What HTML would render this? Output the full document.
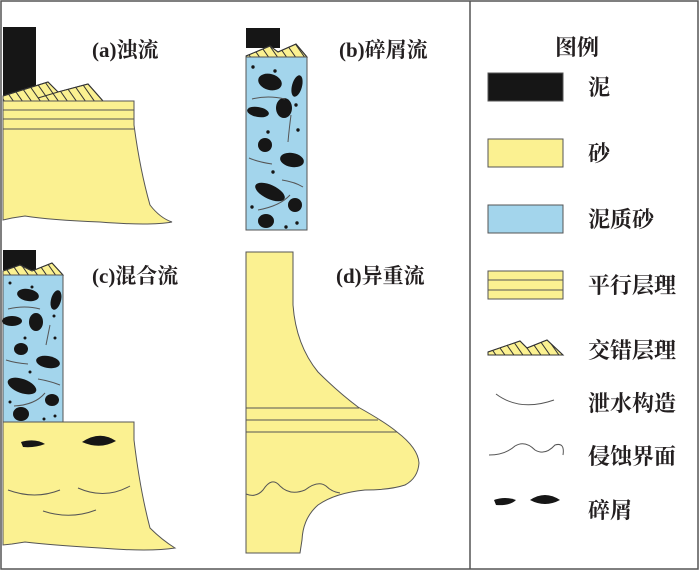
<!DOCTYPE html>
<html><head><meta charset="utf-8"><style>
body{margin:0;background:#fff}
svg{display:block}
text{font-family:"Liberation Serif","Noto Serif CJK SC",serif;font-weight:bold;fill:#231f20}
</style></head><body>
<svg width="700" height="571" viewBox="0 0 700 571" xmlns="http://www.w3.org/2000/svg">
<defs>
<clipPath id="ca"><path d="M3 96 L48 82 L58 92 L88 84 L103 101 L3 101Z"/></clipPath>
<clipPath id="cb"><path d="M246 56 L270 46 L278 52 L296 44 L307 57 L246 57Z"/></clipPath>
<clipPath id="cc"><path d="M3 271 L20 265 L32 271 L52 263 L63 275 L3 275Z"/></clipPath>
<clipPath id="cl"><path d="M488 352 L520 341 L527 348 L547 340 L563 355 L488 355Z"/></clipPath>
<g id="hat" stroke="#333" stroke-width="1">
<line x1="0" y1="0" x2="14" y2="20"/><line x1="9" y1="0" x2="23" y2="20"/><line x1="18" y1="0" x2="32" y2="20"/><line x1="27" y1="0" x2="41" y2="20"/><line x1="36" y1="0" x2="50" y2="20"/><line x1="45" y1="0" x2="59" y2="20"/><line x1="54" y1="0" x2="68" y2="20"/><line x1="63" y1="0" x2="77" y2="20"/><line x1="72" y1="0" x2="86" y2="20"/><line x1="81" y1="0" x2="95" y2="20"/><line x1="90" y1="0" x2="104" y2="20"/><line x1="99" y1="0" x2="113" y2="20"/><line x1="-9" y1="0" x2="5" y2="20"/>
</g>
</defs>
<rect x="1" y="1" width="697" height="568" fill="none" stroke="#555" stroke-width="1.5"/>
<line x1="470" y1="1" x2="470" y2="569" stroke="#555" stroke-width="1.5"/>
<g stroke="#555" stroke-width="1">
<!-- panel a -->
<rect x="3" y="27" width="33" height="70" fill="#161616" stroke="none"/>
<path d="M3 96 L48 82 L58 92 L88 84 L103 101 L3 101Z" fill="#fbf191"/>
<g clip-path="url(#ca)"><use href="#hat" x="0" y="82"/></g>
<path d="M3 96 L48 82 L58 92 L88 84 L103 101 M38 98 L58 92" fill="none" stroke="#333"/>
<path d="M3 101 L134 101 L134 125 Q140 170 150 205 Q160 218 172 222 Q150 226 100 222 Q50 220 25 216 L12 218 L3 220Z" fill="#fbf191"/>
<line x1="3" y1="110" x2="134" y2="110"/><line x1="3" y1="119" x2="134" y2="119"/><line x1="3" y1="129" x2="134" y2="129"/>
<!-- panel b -->
<rect x="246" y="28" width="34" height="20" fill="#161616" stroke="none"/>
<path d="M246 56 L270 46 L278 52 L296 44 L307 57 L246 57Z" fill="#fbf191"/>
<g clip-path="url(#cb)"><use href="#hat" x="240" y="42"/></g>
<path d="M246 56 L270 46 L278 52 L296 44 L307 57" fill="none" stroke="#333"/>
<rect x="246" y="57" width="61" height="173" fill="#a3d5ec"/>
<g fill="#161616" stroke="none">
<ellipse cx="270" cy="82" rx="12" ry="8" transform="rotate(15 270 82)"/>
<ellipse cx="297" cy="86" rx="5" ry="11" transform="rotate(15 297 86)"/>
<ellipse cx="258" cy="112" rx="11" ry="5" transform="rotate(10 258 112)"/>
<ellipse cx="284" cy="108" rx="8" ry="10"/>
<ellipse cx="265" cy="145" rx="7" ry="7"/>
<ellipse cx="292" cy="160" rx="12" ry="7" transform="rotate(10 292 160)"/>
<ellipse cx="270" cy="192" rx="16" ry="7" transform="rotate(25 270 192)"/>
<ellipse cx="295" cy="205" rx="7" ry="7"/>
<ellipse cx="266" cy="221" rx="8" ry="7"/>
<circle cx="253" cy="67" r="1.7"/><circle cx="275" cy="71" r="1.7"/><circle cx="296" cy="105" r="1.7"/><circle cx="268" cy="132" r="1.7"/><circle cx="298" cy="130" r="1.7"/><circle cx="273" cy="172" r="1.7"/><circle cx="252" cy="207" r="1.7"/><circle cx="297" cy="223" r="1.7"/><circle cx="286" cy="227" r="1.7"/>
</g>
<g fill="none" stroke="#555">
<path d="M252 99 Q268 95 285 99"/><path d="M291 115 Q289 130 288 142"/><path d="M249 158 Q258 162 272 164"/><path d="M282 180 Q295 182 303 187"/><path d="M258 210 Q280 206 290 195"/>
</g>
<!-- panel c -->
<rect x="3" y="250" width="33" height="20" fill="#161616" stroke="none"/>
<path d="M3 271 L20 265 L32 271 L52 263 L63 275 L3 275Z" fill="#fbf191"/>
<g clip-path="url(#cc)"><use href="#hat" x="0" y="260"/></g>
<path d="M3 271 L20 265 L32 271 L52 263 L63 275" fill="none" stroke="#333"/>
<rect x="3" y="275" width="60" height="147" fill="#a3d5ec"/>
<g fill="#161616" stroke="none">
<ellipse cx="28" cy="295" rx="11" ry="6" transform="rotate(10 28 295)"/>
<ellipse cx="56" cy="300" rx="5" ry="10" transform="rotate(15 56 300)"/>
<ellipse cx="12" cy="321" rx="10" ry="5"/>
<ellipse cx="36" cy="322" rx="7" ry="9"/>
<ellipse cx="21" cy="349" rx="7" ry="6"/>
<ellipse cx="48" cy="362" rx="12" ry="6" transform="rotate(10 48 362)"/>
<ellipse cx="22" cy="386" rx="15" ry="7" transform="rotate(20 22 386)"/>
<ellipse cx="52" cy="400" rx="7" ry="6"/>
<ellipse cx="21" cy="414" rx="8" ry="7"/>
<circle cx="10" cy="283" r="1.5"/><circle cx="32" cy="287" r="1.5"/><circle cx="54" cy="316" r="1.5"/><circle cx="25" cy="338" r="1.5"/><circle cx="55" cy="338" r="1.5"/><circle cx="30" cy="372" r="1.5"/><circle cx="10" cy="402" r="1.5"/><circle cx="55" cy="416" r="1.5"/><circle cx="44" cy="419" r="1.5"/>
</g>
<g fill="none" stroke="#555">
<path d="M8 309 Q25 305 40 309"/><path d="M50 325 Q48 335 46 345"/><path d="M6 360 Q15 363 28 364"/><path d="M38 379 Q50 381 60 385"/><path d="M14 406 Q35 405 45 393"/>
</g>
<path d="M3 422 L134 422 L134 440 Q140 490 150 528 Q162 540 175 548 Q150 552 100 548 Q50 545 25 542 L12 544 L3 545Z" fill="#fbf191"/>
<path d="M21 442 Q35 438 45 444 Q35 448 23 447Z" fill="#161616" stroke="none"/>
<path d="M82 442 Q100 430 116 441 Q100 450 82 442Z" fill="#161616" stroke="none"/>
<g fill="none" stroke="#555"><path d="M8 490 Q35 500 60 490"/><path d="M78 488 Q105 500 130 486"/><path d="M43 511 Q70 520 96 510"/></g>
<!-- panel d -->
<path d="M246 252 L293 252 L293 305 Q296 345 318 372 Q338 392 358 407 Q385 422 397 432 Q418 448 419 463 Q418 478 405 485 Q390 490 365 490 Q335 493 318 505 Q303 518 302 540 L300 553 L246 553Z" fill="#fbf191"/>
<line x1="246" y1="408" x2="359" y2="408"/><line x1="246" y1="420" x2="378" y2="420"/><line x1="246" y1="432" x2="397" y2="432"/>
<path d="M246 494 Q256 498 263 490 Q272 476 280 486 Q290 496 305 490 Q318 480 326 486 Q332 492 340 493" fill="none"/>
<!-- legend -->
<rect x="488" y="73" width="75" height="28" fill="#161616"/>
<rect x="488" y="139" width="75" height="28" fill="#fbf191"/>
<rect x="488" y="205" width="75" height="28" fill="#a3d5ec"/>
<rect x="488" y="271" width="75" height="28" fill="#fbf191"/>
<line x1="488" y1="280" x2="563" y2="280"/><line x1="488" y1="290" x2="563" y2="290"/>
<path d="M488 352 L520 341 L527 348 L547 340 L563 355 L488 355Z" fill="#fbf191"/>
<g clip-path="url(#cl)"><use href="#hat" x="484" y="338"/></g>
<path d="M488 352 L520 341 L527 348 L547 340 L563 355 L488 355Z" fill="none" stroke="#333"/>
<path d="M496 394 Q520 412 554 400" fill="none"/>
<path d="M489 455 Q505 455 515 446 Q525 440 535 450 Q545 456 555 445 Q565 442 563 455" fill="none"/>
<path d="M494 500 Q505 496 516 500 Q510 506 496 505Z" fill="#161616" stroke="none"/>
<path d="M530 500 Q545 490 560 500 Q545 508 530 500Z" fill="#161616" stroke="none"/>
</g>
<g font-size="21">
<text x="92" y="57">(a)浊流</text>
<text x="339" y="57">(b)碎屑流</text>
<text x="92" y="283">(c)混合流</text>
<text x="336" y="283">(d)异重流</text>
</g>
<g font-size="22">
<text x="555" y="55">图例</text>
<text x="588" y="95">泥</text>
<text x="588" y="161">砂</text>
<text x="588" y="227">泥质砂</text>
<text x="588" y="293">平行层理</text>
<text x="588" y="358">交错层理</text>
<text x="588" y="411">泄水构造</text>
<text x="588" y="464">侵蚀界面</text>
<text x="588" y="518">碎屑</text>
</g>
</svg>
</body></html>
